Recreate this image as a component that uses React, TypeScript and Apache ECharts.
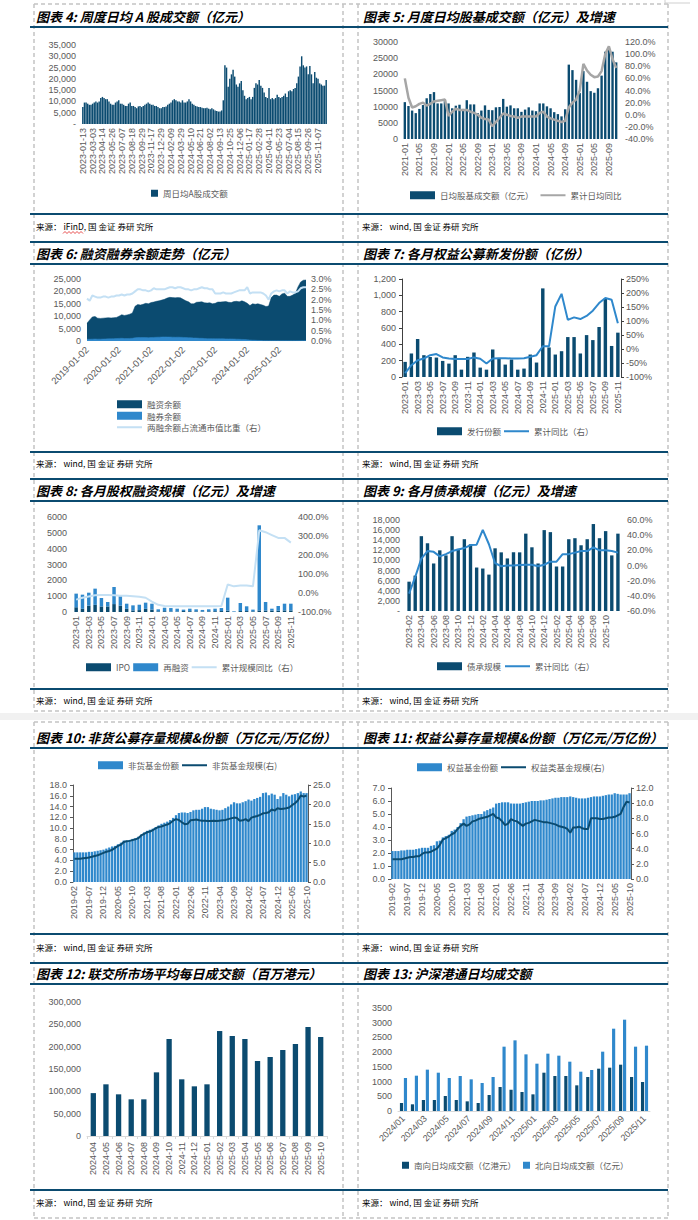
import React, { useEffect, useRef } from "react";
import * as echarts from "echarts";

const DARK = "#0b4b70";
const MID = "#2f88cc";
const LIGHT = "#c4e0f4";
const GREY = "#a6a6a6";
const TXT = "#595959";
const SANS = "'Liberation Sans', Arial, 'Noto Sans CJK SC', sans-serif";
const CJK = "'Noto Sans CJK SC', sans-serif";
const LINE_ICON = "path://M0,0h0.01v0.01h-0.01z M0,2.9h25v2.2h-25z M0,7.99h0.01v0.01h-0.01z";

function addDays(d: string, n: number) {
  const t = new Date(d + "T00:00:00Z");
  t.setUTCDate(t.getUTCDate() + n);
  return t.toISOString().slice(0, 10);
}
function months(startY: number, startM: number, count: number, sep = "-") {
  const out: string[] = [];
  for (let i = 0; i < count; i++) {
    const m0 = startM - 1 + i;
    const y = startY + Math.floor(m0 / 12);
    const m = (m0 % 12) + 1;
    out.push(`${y}${sep}${String(m).padStart(2, "0")}`);
  }
  return out;
}

// ---------- 图表4 ----------
const fig4Labels = ["2023-01-13","2023-03-03","2023-04-14","2023-05-26","2023-07-07","2023-08-18","2023-09-29","2023-11-17","2023-12-29","2024-02-09","2024-03-29","2024-05-10","2024-06-21","2024-08-02","2024-09-13","2024-10-25","2024-12-06","2025-01-17","2025-02-28","2025-04-11","2025-05-23","2025-07-04","2025-08-15","2025-09-26","2025-11-07"];
const fig4Values = [
  7500, 9500, 9500, 9000, 8500, 8500,
  9000, 9500, 10000, 9500, 10000, 11500,
  12000, 11500, 11000, 11000, 10000, 9000,
  8500, 8500, 9500, 10000, 10500, 9000,
  9000, 8500, 8000, 8000, 9000, 9500,
  8000, 8000, 7500, 7000, 7800, 8000,
  7500, 8000, 8500, 9000, 9500, 9000,
  8500, 8500, 8000, 8000, 7500, 7000,
  7000, 7500, 7500, 7800, 8500, 9000,
  9500, 10500, 11000, 10500, 10000, 10000,
  9500, 10500, 9500, 9500, 10000, 11000,
  10000, 9000, 8500, 8000, 7800, 7500,
  7500, 7200, 7000, 7000, 7200, 6800,
  6500, 7000, 6500, 6000, 5800, 5500,
  5500, 6000, 10500, 26000, 25000, 16500,
  20000, 22000, 24000, 21000, 17500, 16500,
  18000, 19000, 15000, 12500, 11000, 11500,
  12000, 11000, 12000, 16000, 18000, 17500,
  19500, 17000, 16000, 14000, 12000, 11500,
  16000, 11000, 11500, 11000, 11500, 13000,
  12000, 11500, 12000, 12500, 13500, 12000,
  14500, 15000, 14500, 15500, 16000, 18000,
  21000, 25500, 30000, 26000, 25000, 25500,
  22000, 25700, 22000, 18000, 23000, 20500,
  20000, 18000, 17500, 17000, 17000, 19500,
];
const fig4Categories = fig4Values.map((_, i) => {
  const base = fig4Labels[Math.floor(i / 6)];
  const k = i % 6;
  return k === 0 ? base : addDays(base, 7 * k);
});

// ---------- 图表5 ----------
const fig5Months = months(2021, 1, 59);
const fig5Turnover = [
  11400, 10200, 8800, 8000, 9300, 10500, 12600, 13900, 14500, 11000, 11000, 12000,
  11000, 9500, 10300, 10600, 9300, 12000, 10700, 10700, 8000, 8800, 10400, 9000,
  8900, 9800, 9900, 12400, 10000, 10400, 9500, 9500, 8400, 9100, 9800, 8800,
  8600, 11000, 11000, 10100, 9500, 8300, 7700, 7000, 9200, 23000, 21300, 18300,
  14200, 21000, 17700, 14800, 14300, 15700, 19600, 27000, 28000, 27000, 23700,
];
const fig5Yoy = [
  60, 28, 12, 14, 18, 20, 15, 18, 22, 23, 24, 25,
  -2, 5, 10, 8, 8, 8, 5, 3, 0, -5, -7, -8,
  -19, -12, -5, 2, 0, -2, -3, -5, -3, -3, -3, -3,
  -3, 3, 5, -3, -6, -8, -10, -12, -10, 12, 20, 25,
  40, 84, 73, 66, 62, 63, 72, 100, 113, 92, 77,
];

// ---------- 图表6 ----------
const fig6Dates = months(2019, 1, 83).map((s) => (s.endsWith("-01") ? s + "-02" : s));
const fig6Margin = [
  7200, 8500, 9700, 9900, 9200, 9100, 9200, 9300, 9400, 9300, 9400, 9500,
  10000, 10600, 10300, 10500, 10800, 11300, 14000, 14700, 14500, 14800, 15200, 15000,
  15500, 15700, 16000, 16200, 16500, 16800, 17300, 17600, 17500, 17400, 17500, 17400,
  16800, 16200, 15800, 15000, 15000, 15600, 15700, 15800, 15400, 15300, 15400, 15000,
  15200, 15700, 15700, 15800, 15900, 15600, 15500, 15900, 16000, 15800, 16200, 15800,
  15200, 14300, 15000, 14800, 15000, 14700, 14400, 13900, 14100, 17500, 18500, 18500,
  18000, 19000, 19300, 18000, 18000, 18500, 19200, 21800, 23800, 24500, 24600,
];
const fig6Short = [
  700, 700, 750, 800, 750, 750, 800, 850, 900, 900, 950, 1000,
  1050, 1100, 1000, 1000, 1050, 1100, 1300, 1400, 1400, 1400, 1400, 1350,
  1400, 1450, 1500, 1550, 1600, 1650, 1600, 1600, 1550, 1500, 1550, 1500,
  1450, 1400, 1350, 1300, 1200, 1200, 1100, 1100, 1000, 950, 950, 950,
  900, 900, 900, 900, 850, 850, 850, 800, 750, 700, 650, 600,
  500, 400, 350, 300, 250, 200, 150, 130, 120, 130, 130, 120,
  110, 110, 110, 100, 100, 100, 100, 110, 120, 130, 130,
];
const fig6Ratio = [
  2.05, 1.95, 2.2, 2.15, 2.1, 2.1, 2.15, 2.15, 2.1, 2.15, 2.15, 2.2,
  2.2, 2.25, 2.2, 2.25, 2.25, 2.3, 2.4, 2.5, 2.5, 2.45, 2.45, 2.4,
  2.45, 2.55, 2.5, 2.5, 2.5, 2.5, 2.55, 2.6, 2.6, 2.55, 2.6, 2.6,
  2.55, 2.5, 2.5, 2.45, 2.5, 2.5, 2.55, 2.6, 2.55, 2.55, 2.5, 2.5,
  2.3, 2.3, 2.3, 2.35, 2.3, 2.3, 2.3, 2.35, 2.4, 2.45, 2.45, 2.45,
  2.6, 2.3, 2.35, 2.35, 2.35, 2.35, 2.3, 2.2, 2.0, 2.3, 2.4, 2.45,
  2.4, 2.45, 2.45, 2.3, 2.4, 2.35, 2.35, 2.4, 2.55, 2.6, 2.6,
];

// ---------- 图表7 ----------
const fig7Months = months(2023, 1, 35);
const fig7Issue = [185, 288, 465, 267, 245, 238, 197, 164, 267, 90, 247, 300, 115, 90, 337, 226, 152, 214, 90, 103, 275, 177, 1085, 362, 275, 316, 489, 489, 288, 513, 452, 612, 960, 380, 543];
const fig7Yoy = [-86, -58, -40, -34, -22, -18, -30, -34, -36, -36, -36, -30, -35, -52, -34, -33, -33, -34, -34, -33, -28, -22, 10, 10, 152, 197, 104, 113, 107, 118, 137, 164, 182, 176, 92];

// ---------- 图表8 ----------
const fig8Months = months(2023, 1, 35);
const fig8IPO = [300, 200, 400, 450, 350, 350, 500, 400, 200, 100, 120, 200, 150, 40, 50, 30, 30, 60, 50, 40, 30, 40, 50, 60, 90, 10, 60, 60, 40, 100, 90, 90, 80, 100, 100];
const fig8Refi = [860, 895, 820, 1025, 535, 280, 1080, 600, 325, 320, 340, 390, 375, 130, 220, 220, 180, 90, 160, 130, 100, 130, 160, 190, 815, 35, 510, 300, 110, 5375, 540, 120, 300, 425, 425];
const fig8Yoy = [-35, -25, -18, -12, -10, -10, -12, -14, -15, -17, -20, -25, -45, -62, -68, -70, -70, -70, -70, -70, -70, -70, -70, -68, 45, 35, 40, 40, 35, 330, 320, 305, 290, 290, 265];

// ---------- 图表9 ----------
const fig9Months = months(2023, 2, 35);
const fig9Bond = [5800, 7000, 14800, 13400, 9400, 12000, 11000, 14800, 12300, 14200, 13200, 8600, 8400, 7200, 12400, 11600, 10400, 11600, 11600, 15300, 12600, 9400, 16000, 15600, 8800, 8800, 14200, 14400, 13000, 14200, 17200, 14400, 15800, 11000, 15300];
const fig9Yoy = [-37, -15, 9, 19, 18, 12, 15, 19, 21, 23, 27, 27.5, 47, 28, 3, -1, 0, 0, 0.5, 1, 1, -1, 1, 5, 5, 15, 15, 17, 19, 19, 24, 20, 20, 19, 17];

// ---------- 图表10 ----------
const fig10Months = months(2019, 2, 81);
const fig10Share = [
  5.5, 5.5, 5.5, 5.5, 5.5, 5.6, 5.6, 5.7, 5.8, 5.9, 6.0,
  6.2, 6.4, 6.6, 6.7, 7.0, 7.3, 7.7, 7.7, 7.8, 8.0, 8.1, 8.4,
  8.8, 9.2, 9.5, 9.7, 9.9, 10.2, 10.5, 10.8, 11.0, 11.2, 11.5, 11.9,
  12.4, 12.8, 12.9, 12.9, 12.8, 13.0, 13.3, 13.4, 13.4, 13.6, 13.9, 13.9,
  13.6, 13.5, 13.4, 13.3, 13.4, 13.7, 14.0, 14.4, 14.8, 14.6, 14.6, 14.8,
  15.0, 15.3, 15.1, 15.4, 15.6, 15.8, 16.5, 16.6, 16.1, 16.4, 16.2, 15.4,
  15.9, 16.5, 16.2, 15.9, 16.2, 16.3, 16.5, 16.8, 16.5, 16.5,
];
const fig10Scale = [
  6.0, 6.0, 6.0, 6.1, 6.2, 6.3, 6.5, 6.7, 6.9, 7.2, 7.5,
  7.8, 8.0, 8.3, 8.8, 9.3, 9.6, 10.3, 10.5, 10.6, 10.8, 11.0, 11.3,
  12.0, 12.4, 12.8, 13.0, 13.4, 13.8, 14.2, 14.3, 14.6, 14.8, 15.2, 15.8,
  16.2, 16.0, 15.4, 14.9, 15.0, 15.9, 16.0, 16.1, 15.9, 15.8, 15.8, 15.7,
  15.7, 15.8, 15.7, 15.8, 15.9, 16.0, 16.2, 16.4, 16.6, 16.5, 15.8, 15.9,
  16.2, 15.7, 16.6, 16.8, 17.0, 17.3, 17.7, 17.8, 18.0, 18.7, 18.4, 19.0,
  18.8, 18.9, 19.0, 19.2, 19.8, 20.3, 21.0, 22.3, 22.0, 22.3,
];

// ---------- 图表11 ----------
const fig11Months = months(2019, 2, 81);
const fig11Share = [
  2.15, 2.15, 2.15, 2.2, 2.2, 2.25, 2.25, 2.25, 2.3, 2.35, 2.4,
  2.4, 2.4, 2.55, 2.6, 2.9, 2.95, 3.2, 3.3, 3.4, 3.7, 3.8, 4.0,
  4.3, 4.6, 4.8, 4.85, 4.9, 4.95, 5.0, 5.0, 5.2, 5.3, 5.4, 5.5,
  5.8, 5.85, 5.9, 5.9, 5.9, 5.8, 5.8, 5.8, 5.8, 5.85, 5.9, 5.95,
  6.0, 6.0, 6.0, 6.05, 6.05, 6.1, 6.15, 6.2, 6.25, 6.25, 6.3, 6.3,
  6.3, 6.35, 6.3, 6.25, 6.2, 6.2, 6.2, 6.25, 6.3, 6.35, 6.35, 6.35,
  6.4, 6.45, 6.5, 6.5, 6.6, 6.55, 6.5, 6.5, 6.5, 6.6,
];
const fig11Scale = [
  2.6, 2.6, 2.6, 2.6, 2.7, 2.8, 2.9, 2.9, 3.0, 3.0, 3.3,
  3.5, 3.5, 3.6, 3.8, 4.0, 4.5, 5.2, 5.4, 5.6, 5.9, 6.1, 6.6,
  7.0, 7.3, 7.0, 7.2, 7.6, 7.7, 7.9, 8.0, 8.1, 8.2, 8.4, 8.6,
  8.1, 8.0, 7.6, 7.1, 7.3, 7.9, 7.7, 7.6, 7.3, 7.0, 7.3, 7.4,
  7.6, 7.8, 7.7, 7.6, 7.5, 7.5, 7.4, 7.3, 7.2, 7.0, 6.9, 6.8,
  6.6, 6.1, 6.8, 6.8, 6.9, 6.7, 6.6, 6.6, 8.0, 8.0, 8.0, 7.9,
  7.9, 8.0, 8.1, 8.1, 8.2, 8.4, 8.6, 9.5, 10.2, 10.1,
];

// ---------- 图表12 ----------
const fig12Months = months(2024, 4, 19);
const fig12Turnover = [96000, 115700, 93300, 82100, 82100, 142500, 217200, 126900, 111200, 115700, 235000, 223900, 217200, 167900, 176900, 192500, 206000, 244000, 221600];

// ---------- 图表13 ----------
const fig13Months = months(2024, 1, 23, "/");
const fig13South = [272, 227, 374, 374, 510, 374, 328, 272, 544, 815, 725, 646, 566, 1302, 1189, 1189, 872, 1155, 1438, 1472, 1574, 1155, 985];
const fig13North = [1121, 1200, 1405, 1302, 1121, 1189, 1076, 951, 1155, 2186, 2401, 1925, 1608, 1948, 1880, 1676, 1336, 1393, 2016, 2797, 3103, 2186, 2220];

const titles = [
  { x: 36, y: 16, text: "图表 4: 周度日均 A 股成交额（亿元）" },
  { x: 363, y: 16, text: "图表 5: 月度日均股基成交额（亿元）及增速" },
  { x: 36, y: 253, text: "图表 6: 融资融券余额走势（亿元）" },
  { x: 363, y: 253, text: "图表 7: 各月权益公募新发份额（亿份）" },
  { x: 36, y: 490, text: "图表 8: 各月股权融资规模（亿元）及增速" },
  { x: 363, y: 490, text: "图表 9: 各月债承规模（亿元）及增速" },
  { x: 36, y: 737, text: "图表 10: 非货公募存量规模&份额（万亿元/万亿份）" },
  { x: 363, y: 737, text: "图表 11: 权益公募存量规模&份额（万亿元/万亿份）" },
  { x: 36, y: 973, text: "图表 12: 联交所市场平均每日成交额（百万港元）" },
  { x: 363, y: 973, text: "图表 13: 沪深港通日均成交额" },
];
const sources = [
  { x: 36, y: 226, text: "来源： iFinD, 国 金证 券研 究所" },
  { x: 362, y: 226, text: "来源： wind, 国 金证 券研 究所" },
  { x: 36, y: 463, text: "来源： wind, 国 金证 券研 究所" },
  { x: 362, y: 463, text: "来源： wind, 国 金证 券研 究所" },
  { x: 36, y: 700, text: "来源： wind, 国 金证 券研 究所" },
  { x: 362, y: 700, text: "来源： wind, 国 金证 券研 究所" },
  { x: 36, y: 947, text: "来源： wind, 国 金证 券研 究所" },
  { x: 362, y: 947, text: "来源： wind, 国 金证 券研 究所" },
  { x: 36, y: 1202, text: "来源： wind, 国 金证 券研 究所" },
  { x: 362, y: 1202, text: "来源： wind, 国 金证 券研 究所" },
];
const darkLines = [27, 214, 242, 264, 452, 479, 501, 689, 748, 934, 963, 984, 1190];

const comma = (v: number) => String(v).replace(/\B(?=(\d{3})+(?!\d))/g, ",");
const commaDash = (v: number) => (v === 0 ? "-" : comma(v));

function buildOption() {
  const grid: any[] = [];
  const xAxis: any[] = [];
  const yAxis: any[] = [];
  const series: any[] = [];
  const legend: any[] = [];
  const graphic: any[] = [];

  const addGrid = (left: number, top: number, width: number, height: number) => {
    grid.push({ left, top, width, height, containLabel: false });
    return grid.length - 1;
  };
  const addX = (gridIndex: number, data: string[], o: any = {}) => {
    const lc = o.lineColor || "#d9d9d9";
    xAxis.push({
      type: "category",
      gridIndex,
      data,
      boundaryGap: o.boundaryGap ?? true,
      axisLine: { show: !!o.line, lineStyle: { color: lc, width: 1 } },
      axisTick: { show: !!o.tick, length: 3, lineStyle: { color: lc } },
      axisLabel: {
        interval: o.interval ?? 0,
        rotate: o.rotate ?? 90,
        margin: o.margin ?? 4,
        fontSize: o.fontSize ?? 9,
        color: TXT,
        fontFamily: SANS,
      },
      splitLine: { show: false },
    });
    return xAxis.length - 1;
  };
  const addY = (gridIndex: number, o: any) => {
    const lc = o.lineColor || "#404040";
    yAxis.push({
      type: "value",
      gridIndex,
      position: o.position || "left",
      min: o.min,
      max: o.max,
      interval: o.interval,
      axisLine: { show: !!o.line, lineStyle: { color: lc, width: 1 } },
      axisTick: { show: !!o.line, length: 3, lineStyle: { color: lc } },
      axisLabel: { formatter: o.fmt, fontSize: o.fontSize ?? 9, color: TXT, margin: o.margin ?? 6, fontFamily: SANS },
      splitLine: { show: false },
    });
    return yAxis.length - 1;
  };
  const lg = (o: any) => ({
    padding: 0,
    orient: o.orient || "horizontal",
    left: o.left,
    top: o.top,
    itemGap: o.gap ?? 4,
    itemWidth: o.w ?? 25,
    itemHeight: o.h ?? 8,
    selectedMode: false,
    data: o.data,
    textStyle: { fontSize: 8.5, color: TXT, fontFamily: CJK },
  });
  const lineSeries = (name: string, xi: number, yi: number, data: number[], color: string, width = 2) => ({
    type: "line",
    name,
    xAxisIndex: xi,
    yAxisIndex: yi,
    data,
    symbol: "none",
    showSymbol: false,
    lineStyle: { color, width },
    itemStyle: { color },
    z: 5,
  });
  const barSeries = (name: string, xi: number, yi: number, data: number[], color: string, gap: string, extra: any = {}) => ({
    type: "bar",
    name,
    xAxisIndex: xi,
    yAxisIndex: yi,
    data,
    itemStyle: { color },
    barCategoryGap: gap,
    ...extra,
  });

  // 图表4
  {
    const g = addGrid(82, 45, 245, 79);
    const x = addX(g, fig4Categories, { interval: 5, rotate: 90, margin: 4 });
    const y = addY(g, { min: 0, max: 35000, interval: 5000, fmt: commaDash, margin: 6 });
    series.push(barSeries("周日均A股成交额", x, y, fig4Values, DARK, "12%"));
    legend.push(lg({ left: 151, top: 189, w: 7, h: 7, data: [{ name: "周日均A股成交额", icon: "rect" }] }));
  }
  // 图表5
  {
    const g = addGrid(403, 42, 215, 97);
    const x = addX(g, fig5Months, { interval: 3, rotate: 90, margin: 4 });
    const yl = addY(g, { min: 0, max: 30000, interval: 5000, fmt: (v: number) => String(v), margin: 5 });
    const yr = addY(g, { position: "right", min: -40, max: 120, interval: 20, fmt: (v: number) => v.toFixed(1) + "%", margin: 7 });
    series.push(barSeries("日均股基成交额（亿元）", x, yl, fig5Turnover, DARK, "35%"));
    series.push(lineSeries("累计日均同比", x, yr, fig5Yoy, GREY, 2.5));
    legend.push(lg({ left: 410, top: 191, gap: 7, data: [{ name: "日均股基成交额（亿元）", icon: "rect" }, { name: "累计日均同比", icon: LINE_ICON }] }));
  }
  // 图表6
  {
    const g = addGrid(87, 279, 219, 62);
    const x = addX(g, fig6Dates, { interval: 11, rotate: 45, margin: 7, boundaryGap: false, fontSize: 9.5 });
    const yl = addY(g, { min: 0, max: 25000, interval: 5000, fmt: comma, margin: 6 });
    const yr = addY(g, { position: "right", min: 0, max: 3, interval: 0.5, fmt: (v: number) => v.toFixed(1) + "%", margin: 5 });
    series.push({
      type: "line", name: "融资余额", xAxisIndex: x, yAxisIndex: yl, data: fig6Margin, symbol: "none",
      lineStyle: { color: DARK, width: 0.5 }, itemStyle: { color: DARK }, areaStyle: { color: DARK, opacity: 1 },
    });
    series.push({
      type: "line", name: "融券余额", xAxisIndex: x, yAxisIndex: yl, data: fig6Short, symbol: "none",
      lineStyle: { color: MID, width: 0.5 }, itemStyle: { color: MID }, areaStyle: { color: MID, opacity: 1 },
    });
    series.push(lineSeries("两融余额占流通市值比重（右）", x, yr, fig6Ratio, LIGHT, 2));
    legend.push(lg({
      orient: "vertical", left: 117, top: 400, gap: 3,
      data: [{ name: "融资余额", icon: "rect" }, { name: "融券余额", icon: "rect" }, { name: "两融余额占流通市值比重（右）", icon: LINE_ICON }],
    }));
  }
  // 图表7
  {
    const g = addGrid(402, 279, 219, 98);
    const x = addX(g, fig7Months, { interval: 1, rotate: 90, margin: 4 });
    const yl = addY(g, { min: 0, max: 1200, interval: 200, fmt: comma, margin: 6, line: true });
    const yr = addY(g, { position: "right", min: -100, max: 250, interval: 50, fmt: (v: number) => v + "%", margin: 5, line: true });
    series.push(barSeries("发行份额", x, yl, fig7Issue, DARK, "45%"));
    series.push(lineSeries("累计同比（右）", x, yr, fig7Yoy, MID, 2));
    legend.push(lg({ left: 437, top: 427, gap: 3, data: [{ name: "发行份额", icon: "rect" }, { name: "累计同比（右）", icon: LINE_ICON }] }));
  }
  // 图表8
  {
    const g = addGrid(73, 517, 221, 95);
    const x = addX(g, fig8Months, { interval: 1, rotate: 90, margin: 4 });
    const yl = addY(g, { min: 0, max: 6000, interval: 1000, fmt: (v: number) => String(v), margin: 6 });
    const yr = addY(g, { position: "right", min: -100, max: 400, interval: 100, fmt: (v: number) => v.toFixed(1) + "%", margin: 4 });
    series.push(barSeries("IPO", x, yl, fig8IPO, DARK, "45%", { stack: "f8" }));
    series.push(barSeries("再融资", x, yl, fig8Refi, MID, "45%", { stack: "f8" }));
    series.push(lineSeries("累计规模同比（右）", x, yr, fig8Yoy, LIGHT, 2));
    legend.push(lg({ left: 86, top: 663, gap: 3, data: [{ name: "IPO", icon: "rect" }, { name: "再融资", icon: "rect" }, { name: "累计规模同比（右）", icon: LINE_ICON }] }));
  }
  // 图表9
  {
    const g = addGrid(406, 520, 215, 91);
    const x = addX(g, fig9Months, { interval: (i: number) => i % 2 === 0 && i < 34, rotate: 90, margin: 4 });
    const yl = addY(g, { min: 0, max: 18000, interval: 2000, fmt: commaDash, margin: 6 });
    const yr = addY(g, { position: "right", min: -60, max: 60, interval: 20, fmt: (v: number) => v.toFixed(1) + "%", margin: 6 });
    series.push(barSeries("债承规模", x, yl, fig9Bond, DARK, "45%"));
    series.push(lineSeries("累计同比（右）", x, yr, fig9Yoy, MID, 2));
    legend.push(lg({ left: 437, top: 662, gap: 4, data: [{ name: "债承规模", icon: "rect" }, { name: "累计同比（右）", icon: LINE_ICON }] }));
  }
  // 图表10
  {
    const g = addGrid(73, 785, 235, 97);
    const x = addX(g, fig10Months, { interval: 4, rotate: 90, margin: 4 });
    const yl = addY(g, { min: 0, max: 18, interval: 2, fmt: (v: number) => v.toFixed(1), margin: 6, line: true, lineColor: "#595959" });
    const yr = addY(g, { position: "right", min: 0, max: 25, interval: 5, fmt: (v: number) => v.toFixed(1), margin: 5, line: true, lineColor: "#595959" });
    series.push(barSeries("非货基金份额", x, yl, fig10Share, MID, "22%"));
    series.push(lineSeries("非货基金规模(右)", x, yr, fig10Scale, DARK, 2));
    legend.push(lg({ left: 98, top: 761, gap: 3, data: [{ name: "非货基金份额", icon: "rect" }, { name: "非货基金规模(右)", icon: LINE_ICON }] }));
  }
  // 图表11
  {
    const g = addGrid(391, 788, 240, 91);
    const x = addX(g, fig11Months, { interval: 4, rotate: 90, margin: 4 });
    const yl = addY(g, { min: 0, max: 7, interval: 1, fmt: (v: number) => v.toFixed(1), margin: 6, line: true, lineColor: "#595959" });
    const yr = addY(g, { position: "right", min: 0, max: 12, interval: 2, fmt: (v: number) => v.toFixed(1), margin: 5, line: true, lineColor: "#595959" });
    series.push(barSeries("权益基金份额", x, yl, fig11Share, MID, "22%"));
    series.push(lineSeries("权益类基金规模(右)", x, yr, fig11Scale, DARK, 2));
    legend.push(lg({ left: 417, top: 763, gap: 3, data: [{ name: "权益基金份额", icon: "rect" }, { name: "权益类基金规模(右)", icon: LINE_ICON }] }));
  }
  // 图表12
  {
    const g = addGrid(87, 1002, 240, 134);
    const x = addX(g, fig12Months, { interval: 0, rotate: 90, margin: 6, line: true, tick: true });
    const y = addY(g, { min: 0, max: 300000, interval: 50000, fmt: comma, margin: 6 });
    series.push(barSeries("联交所市场平均每日成交额", x, y, fig12Turnover, DARK, "58%"));
  }
  // 图表13
  {
    const g = addGrid(398, 1008, 252, 103);
    const x = addX(g, fig13Months, { interval: 1, rotate: 45, margin: 6, line: true });
    const y = addY(g, { min: 0, max: 3500, interval: 500, fmt: (v: number) => String(v), margin: 6 });
    series.push(barSeries("南向日均成交额（亿港元）", x, y, fig13South, DARK, "35%", { barGap: "25%" }));
    series.push(barSeries("北向日均成交额（亿元）", x, y, fig13North, MID, "35%", { barGap: "25%" }));
    legend.push(lg({ left: 402, top: 1161, w: 7, h: 7, gap: 7, data: [{ name: "南向日均成交额（亿港元）", icon: "rect" }, { name: "北向日均成交额（亿元）", icon: "rect" }] }));
  }

  // frame: dashed borders
  const dash = { stroke: "#c4c4c4", lineWidth: 1.5, lineDash: [4, 3] };
  const vx = [34, 343, 358, 668];
  vx.forEach((x) => {
    graphic.push({ type: "line", silent: true, shape: { x1: x, y1: 4, x2: x, y2: 711 }, style: dash });
    graphic.push({ type: "line", silent: true, shape: { x1: x, y1: 722, x2: x, y2: 1218 }, style: dash });
  });
  [4, 711, 722, 1218].forEach((y) => {
    graphic.push({ type: "line", silent: true, shape: { x1: 34, y1: y, x2: 668, y2: y }, style: dash });
  });
  graphic.push({ type: "rect", silent: true, shape: { x: 0, y: 713, width: 698, height: 7 }, style: { fill: "#f1f1f1" } });
  graphic.push({ type: "line", silent: true, shape: { x1: 665, y1: 3, x2: 690, y2: 3 }, style: { stroke: "#cfcfcf", lineWidth: 1 } });
  graphic.push({ type: "line", silent: true, shape: { x1: 665, y1: 0, x2: 665, y2: 5 }, style: { stroke: "#cfcfcf", lineWidth: 1 } });
  // dark rules
  darkLines.forEach((y) => {
    graphic.push({ type: "line", silent: true, shape: { x1: 30, y1: y, x2: 668, y2: y }, style: { stroke: DARK, lineWidth: 2 } });
  });
  titles.forEach((t) => {
    graphic.push({
      type: "text", silent: true, x: t.x, y: t.y,
      style: { text: t.text, fill: "#000", fontSize: 13, fontWeight: "bold", fontStyle: "italic", fontFamily: CJK, verticalAlign: "middle", align: "left" },
    });
  });
  sources.forEach((t) => {
    graphic.push({
      type: "text", silent: true, x: t.x, y: t.y,
      style: { text: t.text, fill: "#000", fontSize: 8.5, fontFamily: CJK, verticalAlign: "middle", align: "left" },
    });
  });
  // spell-check wavy underline under "iFinD"
  graphic.push({
    type: "polyline", silent: true,
    shape: { points: [[63, 233.5], [65, 231.5], [67, 233.5], [69, 231.5], [71, 233.5], [73, 231.5], [75, 233.5], [77, 231.5], [79, 233.5], [81, 231.5], [83, 233.5]] },
    style: { stroke: "#e02020", lineWidth: 0.8, fill: "none" },
  });

  return {
    animation: false,
    backgroundColor: "#ffffff",
    textStyle: { fontFamily: SANS },
    grid,
    xAxis,
    yAxis,
    series,
    legend,
    graphic,
  };
}

export default function App() {
  const ref = useRef<HTMLDivElement>(null);
  useEffect(() => {
    if (!ref.current) return;
    const chart = echarts.init(ref.current, undefined, { renderer: "svg", width: 698, height: 1220 });
    chart.setOption(buildOption() as any);
    return () => chart.dispose();
  }, []);
  return (
    <div
      ref={ref}
      style={{ position: "absolute", left: 0, top: 0, width: 698, height: 1220, background: "#fff" }}
    />
  );
}
